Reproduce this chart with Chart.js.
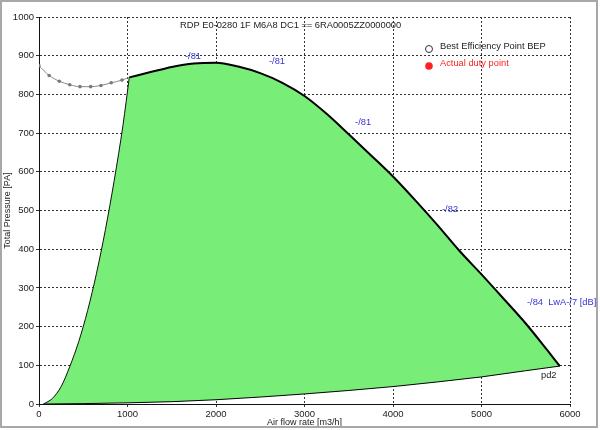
<!DOCTYPE html>
<html>
<head>
<meta charset="utf-8">
<script src="https://cdn.jsdelivr.net/npm/chart.js@4.4.0/dist/chart.umd.min.js"></script>
<style>
html, body { margin: 0; padding: 0; background: #fff; }
#wrap { width: 600px; height: 430px; }
</style>
</head>
<body>
<div id="wrap"><canvas id="chart" width="600" height="430"></canvas></div>
<script>
// curve at min. speed (left edge of the field)
var minFlow = [50, 150, 250, 350, 450, 550, 650, 750, 850, 950, 1020];
var minPressure = [0, 14, 45, 98, 162, 242, 338, 450, 578, 722, 844];

// curve at max. speed (top edge)
var maxFlow = [1020, 1250, 1500, 1750, 2000, 2250, 2500, 2750, 3000, 3250, 3500, 3750, 4000, 4250, 4500, 4750, 5000, 5250, 5500, 5750, 5885];
var maxPressure = [844, 857, 871, 880, 882, 872, 855, 830, 796, 750, 697, 643, 588, 527, 463, 396, 335, 272, 208, 137, 98];

// system curve pd2 (bottom edge)
var sysFlow = [50, 500, 1000, 1500, 2000, 2500, 3000, 3500, 4000, 4500, 5000, 5500, 5885];
var sysPressure = [0, 1, 3, 6, 11, 18, 26, 35, 45, 57, 70, 86, 98];

// unstable part of the curve (grey, with markers)
var stallFlow = [0, 115, 230, 347, 463, 584, 700, 816, 938, 1020];
var stallPressure = [874, 849, 834, 825, 820, 820, 823, 830, 837, 844];

// sound labels along the curve
var noiseText = ['-/81', '-/81', '-/81', '-/82', '-/84  LwA-/7 [dB]'];
var noiseFlow = [1650, 2599, 3571, 4554, 5514];
var noisePressure = [897, 884, 727, 502, 262];

var pdLabel = 'pd2', pdFlow = 5672, pdPressure = 73;

var xTicks = [0, 1000, 2000, 3000, 4000, 5000, 6000];
var yTicks = [0, 100, 200, 300, 400, 500, 600, 700, 800, 900, 1000];

var titleText = 'RDP E0-0280 1F M6A8 DC1 == 6RA0005ZZ0000000';
var legendText = ['Best Efficiency Point BEP', 'Actual duty point'];

var FONT = "'Liberation Sans', Arial, sans-serif";

function pts(xs, ys) {
  return xs.map(function (v, i) { return { x: v, y: ys[i] }; });
}

// outline of the field = left curve + top curve (used for the green fill only)
var envelope = pts(minFlow, minPressure).concat(pts(maxFlow.slice(1), maxPressure.slice(1)));

var decor = {
  id: 'decor',
  afterDraw: function (chart) {
    var ctx = chart.ctx, sx = chart.scales.x, sy = chart.scales.y;
    ctx.save();
    ctx.textBaseline = 'middle';
    ctx.textAlign = 'left';
    ctx.font = '9.3px ' + FONT;

    ctx.fillStyle = '#3434d6';
    for (var i = 0; i < noiseText.length; i++) {
      ctx.fillText(noiseText[i], sx.getPixelForValue(noiseFlow[i]), sy.getPixelForValue(noisePressure[i]));
    }
    ctx.fillStyle = '#222';
    ctx.fillText(pdLabel, sx.getPixelForValue(pdFlow), sy.getPixelForValue(pdPressure));

    ctx.fillText(titleText, 180, 25);

    // legend
    ctx.fillText(legendText[0], 440, 46);
    ctx.beginPath();
    ctx.arc(429, 49, 3.5, 0, Math.PI * 2);
    ctx.fillStyle = '#fff';
    ctx.fill();
    ctx.lineWidth = 1;
    ctx.strokeStyle = '#333';
    ctx.stroke();

    ctx.fillStyle = '#ff2020';
    ctx.fillText(legendText[1], 440, 63);
    ctx.beginPath();
    ctx.arc(429, 66, 3.8, 0, Math.PI * 2);
    ctx.fill();

    // frame
    ctx.strokeStyle = '#a8a8a8';
    ctx.lineWidth = 2;
    ctx.strokeRect(1, 1, 596, 426);
    ctx.restore();
  }
};

new Chart(document.getElementById('chart'), {
  type: 'line',
  data: {
    datasets: [
      { // green field
        data: envelope,
        borderWidth: 0,
        borderColor: 'rgba(0,0,0,0)',
        backgroundColor: '#78ee78',
        fill: '+1',
        pointRadius: 0,
        tension: 0,
        order: 4
      },
      { // pd2
        data: pts(sysFlow, sysPressure),
        borderColor: '#000',
        borderWidth: 1,
        pointRadius: 0,
        fill: false,
        order: 3
      },
      { // min speed
        data: pts(minFlow, minPressure),
        borderColor: '#111',
        borderWidth: 1,
        pointRadius: 0,
        fill: false,
        cubicInterpolationMode: 'monotone',
        order: 2
      },
      { // max speed
        data: pts(maxFlow, maxPressure),
        borderColor: '#000',
        borderWidth: 2,
        pointRadius: 0,
        fill: false,
        cubicInterpolationMode: 'monotone',
        order: 1
      },
      { // unstable part
        data: pts(stallFlow, stallPressure),
        borderColor: '#8a8a8a',
        borderWidth: 1,
        pointRadius: stallFlow.map(function (v, i) { return i < stallFlow.length - 1 ? 1.8 : 0; }),
        pointBackgroundColor: '#7a7a7a',
        pointBorderWidth: 0,
        cubicInterpolationMode: 'monotone',
        fill: false,
        order: 0
      }
    ]
  },
  options: {
    responsive: false,
    animation: false,
    events: [],
    layout: { padding: { left: 0, right: 30, top: 17, bottom: 0 } },
    plugins: { legend: { display: false }, tooltip: { enabled: false } },
    scales: {
      x: {
        type: 'linear',
        min: xTicks[0],
        max: xTicks[xTicks.length - 1],
        afterBuildTicks: function (s) { s.ticks = xTicks.map(function (v) { return { value: v }; }); },
        ticks: { color: '#222', font: { family: FONT, size: 9.5 }, padding: 2, maxRotation: 0,
          callback: function (v) { return String(v); } },
        grid: { color: '#333', tickLength: 3, tickColor: '#333' },
        border: { display: true, color: '#111', width: 1, dash: [2, 2] },
        title: { display: true, text: 'Air flow rate [m3/h]', color: '#222',
          font: { family: FONT, size: 9 }, padding: { top: 0, bottom: 1.6 } },
        afterFit: function (s) { s.height = 26; }
      },
      y: {
        type: 'linear',
        min: yTicks[0],
        max: yTicks[yTicks.length - 1],
        afterBuildTicks: function (s) { s.ticks = yTicks.map(function (v) { return { value: v }; }); },
        ticks: { color: '#222', font: { family: FONT, size: 9.5 }, padding: 2,
          callback: function (v) { return String(v); } },
        grid: { color: '#333', tickLength: 3, tickColor: '#333' },
        border: { display: true, color: '#111', width: 1, dash: [2, 2] },
        title: { display: true, text: 'Total Pressure [PA]', color: '#222',
          font: { family: FONT, size: 9 }, padding: { top: 2.5, bottom: 0 } },
        afterFit: function (s) { s.width = 39; }
      }
    }
  },
  plugins: [decor]
});
</script>
</body>
</html>
